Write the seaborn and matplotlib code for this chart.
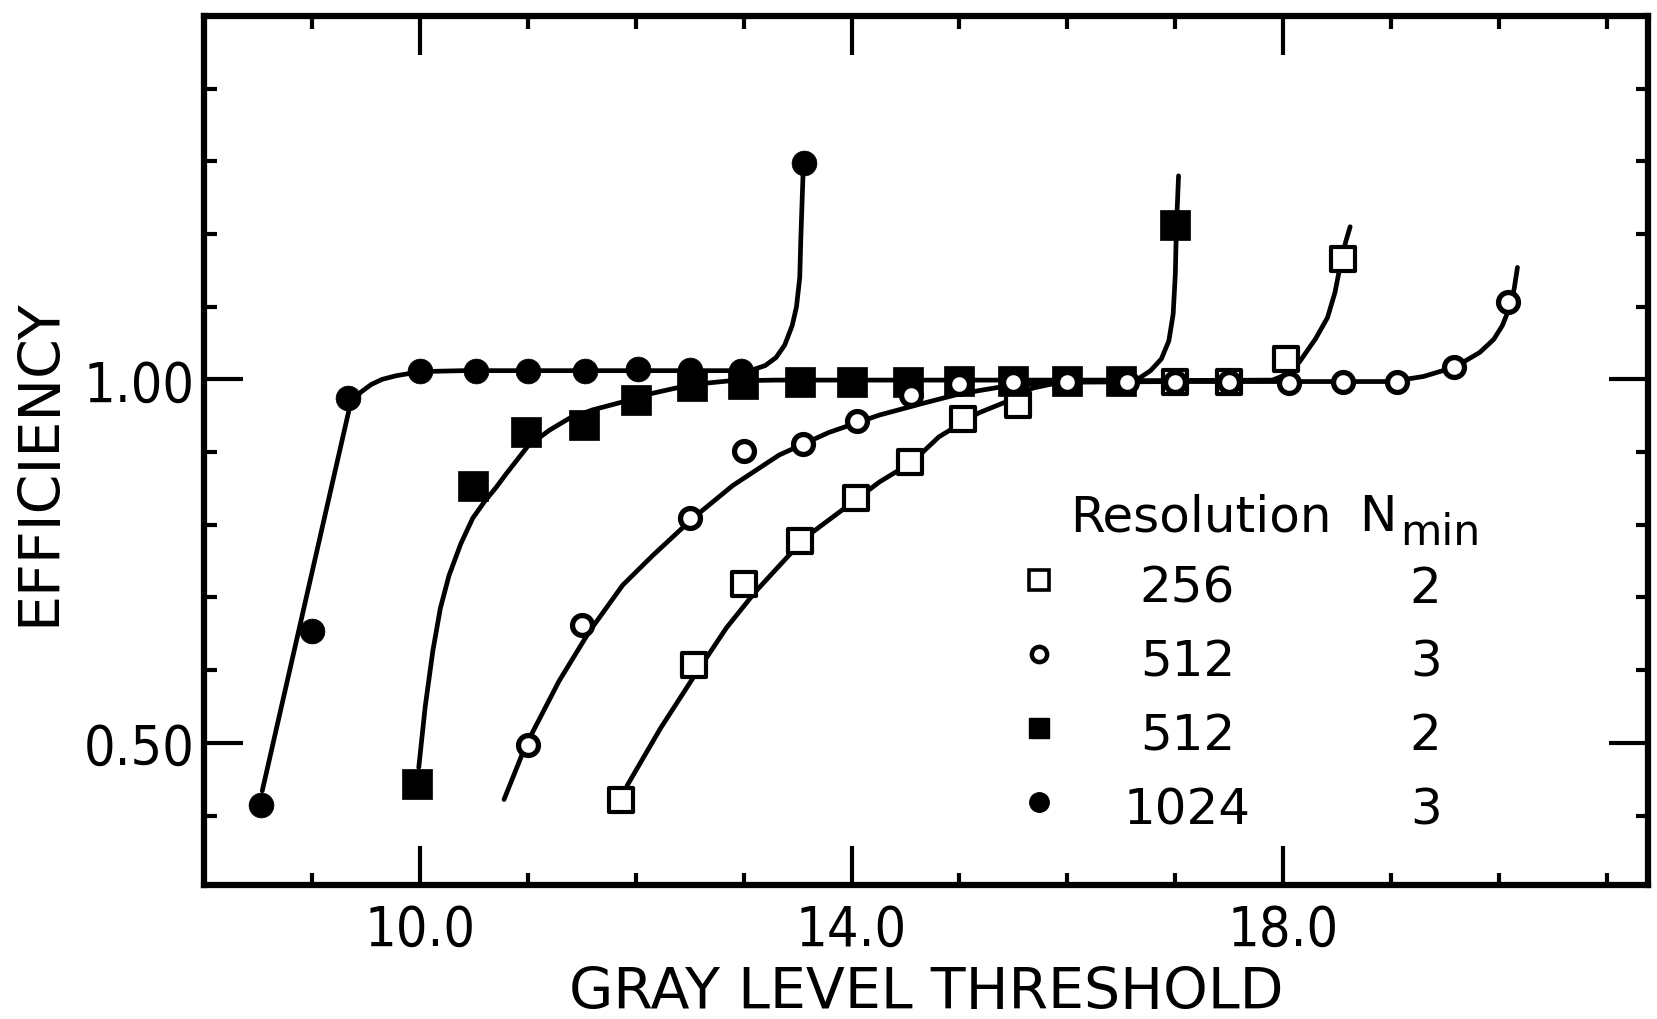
import matplotlib
matplotlib.use("Agg")
import matplotlib.pyplot as plt
from matplotlib import font_manager
from matplotlib.ticker import FixedLocator, FixedFormatter
import seaborn as sns

# ---------------- measured efficiencies (markers) ----------------
thr_1024_n3 = [8.53, 9.0, 9.33, 10.0, 10.52, 11.0, 11.53, 12.02, 12.5, 12.98, 13.56]
eff_1024_n3 = [0.415, 0.654, 0.974, 1.012, 1.012, 1.012, 1.012, 1.014, 1.013, 1.011, 1.298]

thr_512_n2 = [9.97, 10.49, 10.98, 11.52, 12.0, 12.52, 12.99, 13.52, 14.0, 14.52,
              15.0, 15.5, 16.0, 16.5, 17.0]
eff_512_n2 = [0.443, 0.854, 0.928, 0.937, 0.971, 0.991, 0.994, 0.996, 0.996, 0.997,
              0.998, 0.998, 0.998, 0.998, 1.213]

thr_512_n3 = [11.0, 11.5, 12.5, 13.0, 13.55, 14.05, 14.55, 15.0, 15.5, 16.0, 16.55,
              17.0, 17.5, 18.05, 18.55, 19.05, 19.58, 20.08]
eff_512_n3 = [0.497, 0.662, 0.809, 0.902, 0.911, 0.943, 0.978, 0.994, 0.996, 0.997,
              0.997, 0.996, 0.996, 0.995, 0.997, 0.997, 1.017, 1.106]

thr_256_n2 = [11.86, 12.54, 13.0, 13.52, 14.04, 14.54, 15.03, 15.54, 16.0, 16.5,
              17.0, 17.5, 18.03, 18.55]
eff_256_n2 = [0.422, 0.607, 0.719, 0.777, 0.837, 0.886, 0.946, 0.965, 0.997, 0.997,
              0.997, 0.997, 1.028, 1.166]

# ---------------- hand-drawn trend curves ----------------
fit_1024_x = [8.54, 9.35, 9.45, 9.55, 9.65, 9.78, 9.9, 10.1, 10.4, 13.0, 13.1,
              13.2, 13.3, 13.38, 13.45, 13.49, 13.52, 13.53, 13.55]
fit_1024_y = [0.434, 0.962, 0.982, 0.993, 1.0, 1.005, 1.008, 1.011, 1.012, 1.012, 1.014,
              1.019, 1.03, 1.047, 1.074, 1.1, 1.14, 1.193, 1.28]

fit_512_n2_x = [9.99, 10.05, 10.12, 10.19, 10.27, 10.38, 10.49, 10.6, 10.71, 10.8, 10.9,
                11.0, 11.2, 11.38, 11.6, 11.88, 12.1, 12.37, 12.6, 12.87, 13.3, 16.55,
                16.67, 16.77, 16.87, 16.94, 16.98, 17.0, 17.01, 17.03]
fit_512_n2_y = [0.466, 0.55, 0.626, 0.685, 0.73, 0.774, 0.809, 0.832, 0.852, 0.87, 0.889,
                0.908, 0.93, 0.946, 0.958, 0.969, 0.979, 0.988, 0.994, 0.998, 0.999, 0.999,
                1.002, 1.012, 1.028, 1.053, 1.09, 1.145, 1.21, 1.28]

fit_512_n3_x = [10.78, 10.98, 11.29, 11.57, 11.88, 12.16, 12.53, 12.9, 13.33, 13.79,
                14.26, 14.66, 15.0, 15.4, 15.9, 17.0, 19.0, 19.3, 19.59, 19.82, 19.95,
                20.03, 20.1, 20.14, 20.17]
fit_512_n3_y = [0.422, 0.496, 0.585, 0.653, 0.717, 0.758, 0.809, 0.854, 0.896, 0.927,
                0.951, 0.967, 0.98, 0.99, 0.996, 0.997, 0.997, 1.004, 1.017, 1.037, 1.055,
                1.074, 1.1, 1.125, 1.154]

fit_256_n2_x = [11.92, 12.23, 12.53, 12.84, 13.11, 13.42, 13.64, 14.01, 14.26, 14.56,
                14.81, 15.18, 15.43, 15.68, 15.9, 16.2, 17.9, 18.05, 18.15, 18.3, 18.41,
                18.48, 18.54, 18.58, 18.62]
fit_256_n2_y = [0.441, 0.52, 0.589, 0.658, 0.708, 0.758, 0.79, 0.831, 0.859, 0.886,
                0.921, 0.954, 0.969, 0.988, 0.995, 0.998, 0.999, 1.008, 1.024, 1.056, 1.085,
                1.12, 1.166, 1.19, 1.21]

# ---------------- key table ----------------
legend_res = ["256", "512", "512", "1024"]
legend_nmin = ["2", "3", "2", "3"]

# ---------------- axis ticks ----------------
x_major = [10.0, 14.0, 18.0]
x_major_labels = ["10.0", "14.0", "18.0"]
x_minor = [9, 11, 12, 13, 15, 16, 17, 19, 20, 21]
y_major = [0.5, 1.0]
y_major_labels = ["0.50", "1.00"]
y_minor = [0.4, 0.6, 0.7, 0.8, 0.9, 1.1, 1.2, 1.3, 1.4]


def has_condensed_dejavu():
    return any(f.name == "DejaVu Sans" and f.stretch == "condensed"
               for f in font_manager.fontManager.ttflist)


sns.set_style("ticks")
plt.rcParams["font.family"] = ["DejaVu Sans"]
for key in ("text.color", "axes.labelcolor", "xtick.color", "ytick.color",
            "axes.edgecolor"):
    plt.rcParams[key] = "black"

tick_stretch = "condensed" if has_condensed_dejavu() else "normal"
tick_size = 40 if tick_stretch == "condensed" else 37
key_size = 36

fig = plt.figure(figsize=(16.57, 10.2), dpi=100)
ax = fig.add_axes([0.1231, 0.1318, 0.8715, 0.8516])

# trend curves
line_kw = dict(color="black", linewidth=3.4, sort=False, estimator=None, ax=ax,
               legend=False, solid_joinstyle="round", solid_capstyle="round", zorder=2)
sns.lineplot(x=fit_1024_x, y=fit_1024_y, **line_kw)
sns.lineplot(x=fit_512_n2_x, y=fit_512_n2_y, **line_kw)
sns.lineplot(x=fit_512_n3_x, y=fit_512_n3_y, **line_kw)
sns.lineplot(x=fit_256_n2_x, y=fit_256_n2_y, **line_kw)

# measured points
sns.scatterplot(x=thr_256_n2, y=eff_256_n2, marker="s", s=310, color="white",
                edgecolor="black", linewidth=3.0, zorder=4, ax=ax, legend=False)
sns.scatterplot(x=thr_1024_n3, y=eff_1024_n3, marker="o", s=320, color="black",
                edgecolor="black", linewidth=0.5, zorder=5, ax=ax, legend=False)
sns.scatterplot(x=thr_512_n2, y=eff_512_n2, marker="s", s=440, color="black",
                edgecolor="black", linewidth=0.5, zorder=6, ax=ax, legend=False)
sns.scatterplot(x=thr_512_n3, y=eff_512_n3, marker="o", s=205, color="white",
                edgecolor="black", linewidth=3.8, zorder=7, ax=ax, legend=False)

# axes frame and ticks
ax.set_xlim(8.0, 21.38)
ax.set_ylim(0.305, 1.50)
ax.xaxis.set_major_locator(FixedLocator(x_major))
ax.xaxis.set_major_formatter(FixedFormatter(x_major_labels))
ax.xaxis.set_minor_locator(FixedLocator(x_minor))
ax.yaxis.set_major_locator(FixedLocator(y_major))
ax.yaxis.set_major_formatter(FixedFormatter(y_major_labels))
ax.yaxis.set_minor_locator(FixedLocator(y_minor))
ax.tick_params(which="both", direction="in", top=True, right=True, width=3,
               color="black", labelcolor="black")
ax.tick_params(which="major", length=28, labelsize=tick_size)
ax.tick_params(axis="x", which="major", pad=13)
ax.tick_params(axis="y", which="major", pad=7)
ax.tick_params(which="minor", length=9)
for lab in ax.get_xticklabels() + ax.get_yticklabels():
    lab.set_fontstretch(tick_stretch)
for spine in ax.spines.values():
    spine.set_visible(True)
    spine.set_linewidth(4.5)
    spine.set_color("black")

ax.set_xlabel("GRAY LEVEL THRESHOLD", fontsize=41, color="black")
ax.xaxis.set_label_coords(0.5, -0.1425)
ax.xaxis.label.set_va("baseline")
ax.set_ylabel("EFFICIENCY", fontsize=41, color="black")
ax.yaxis.set_label_coords(-0.1134, 0.487)
ax.yaxis.label.set_va("center")

# key table
key_kw = dict(transform=ax.transAxes, fontsize=key_size, va="baseline", color="black")
ax.text(0.600, 0.408, "Resolution", ha="left", **key_kw)
ax.text(0.800, 0.408, "N", ha="left", **key_kw)
ax.text(0.828, 0.392, "min", ha="left", transform=ax.transAxes,
        fontsize=key_size * 0.85, va="baseline", color="black")

key_markers = [("s", "white", 15, 2.6), ("o", "white", 11, 3.2),
               ("s", "black", 15, 1.0), ("o", "black", 14, 1.0)]
row_top, row_step = 0.3256, 0.085
for i, (res, nmin) in enumerate(zip(legend_res, legend_nmin)):
    yb = row_top - i * row_step
    mk, fc, ms, mew = key_markers[i]
    ax.plot([0.578], [yb + 0.0245], marker=mk, markersize=ms, markerfacecolor=fc,
            markeredgecolor="black", markeredgewidth=mew, linestyle="none",
            transform=ax.transAxes, zorder=8)
    ax.text(0.681, yb, res, ha="center", **key_kw)
    ax.text(0.846, yb, nmin, ha="center", **key_kw)

fig.savefig("out.png", dpi=100, facecolor="white")
